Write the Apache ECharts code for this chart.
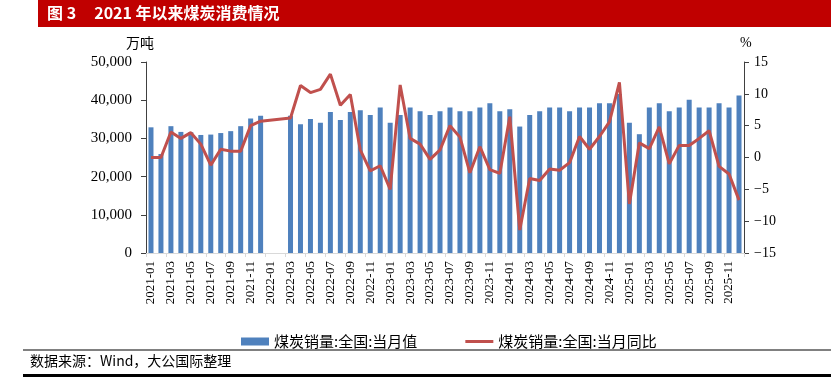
<!DOCTYPE html>
<html><head><meta charset="utf-8">
<script src="https://cdn.jsdelivr.net/npm/echarts@6/dist/echarts.min.js"></script>
<style>html,body{margin:0;padding:0;background:#fff}#c{width:831px;height:379px}</style>
</head><body><div id="c"></div>
<script>
const months = [];
for (let y = 2021; y <= 2025; y++) for (let m = 1; m <= 12; m++) months.push(y + '-' + String(m).padStart(2, '0'));
const salesValue = [
  32900, 25900, 33200, 31700, 31600, 30900, 31000, 31400, 31900, 33200, 35200, 35900,
  null, null, 35900, 33700, 35100, 34100, 36900, 34800, 36900, 37400, 36100, 38100,
  34100, 36100, 38100, 37100, 36100, 37100, 38100, 37100, 37100, 38100, 39200, 37100,
  37600, 33100, 36100, 37100, 38100, 38100, 37100, 38100, 38100, 39200, 39200, 41600,
  34100, 31100, 38100, 39200, 37100, 38100, 40100, 38100, 38100, 39200, 38100, 41200
];
const salesYoY = [
  0.0, 0.0, 4.0, 3.0, 3.9, 2.1, -1.2, 1.3, 1.0, 1.0, 5.0, 5.7,
  null, null, 6.2, 11.3, 10.2, 10.7, 13.1, 8.2, 9.9, 1.2, -2.1, -1.3,
  -5.0, 11.4, 3.0, 2.1, -0.3, 1.2, 5.0, 3.2, -2.4, 1.7, -1.9, -2.5,
  6.4, -11.4, -3.3, -3.6, -1.8, -2.0, -0.8, 3.3, 1.3, 3.3, 5.6, 11.8,
  -7.3, 2.3, 1.4, 4.8, -1.0, 1.9, 1.9, 3.0, 4.2, -1.4, -2.6, -6.7
];
const leftTicks = { min: 0, max: 50000, interval: 10000 };
const rightTicks = { min: -15, max: 15, interval: 5 };
const nameBar = '煤炭销量:全国:当月值';
const nameLine = '煤炭销量:全国:当月同比';
const titleText = '图 3     2021 年以来煤炭消费情况';
const sourceText = '数据来源：Wind，大公国际整理';

const serif = '"Liberation Serif", "Noto Sans CJK SC", serif';
const chart = echarts.init(document.getElementById('c'));
chart.setOption({
  animation: false,
  backgroundColor: '#fff',
  grid: { left: 146, right: 87, top: 62, bottom: 126, containLabel: false },
  legend: {
    left: 236, top: 329, itemGap: 48, itemWidth: 28, itemHeight: 8,
    textStyle: { fontFamily: '"Noto Sans CJK SC"', fontSize: 15, color: '#000' },
    data: [
      { name: nameBar, icon: 'rect' },
      { name: nameLine, icon: 'path://M0,0 M28,8 M0,2.5 L28,2.5 L28,5.5 L0,5.5 Z', itemStyle: { color: '#c0504d' } }
    ]
  },
  graphic: [
    { type: 'rect', left: 38, top: 0, shape: { width: 793, height: 27 }, style: { fill: '#c00000' } },
    { type: 'text', left: 47, top: 5, style: { text: titleText, fill: '#fff', font: 'bold 16px "Noto Sans CJK SC"' } },
    { type: 'text', left: 126, top: 36, style: { text: '万吨', fill: '#000', font: '14px "Noto Sans CJK SC"' } },
    { type: 'text', left: 740, top: 36, style: { text: '%', fill: '#000', font: '14px "Liberation Serif"' } },
    { type: 'rect', left: 23, top: 349, shape: { width: 808, height: 2 }, style: { fill: '#808080' } },
    { type: 'text', left: 30, top: 354, style: { text: sourceText, fill: '#000', font: '14px "Noto Sans CJK SC"' } },
    { type: 'rect', left: 23, top: 374, shape: { width: 808, height: 3 }, style: { fill: '#000' } }
  ],
  xAxis: {
    type: 'category', data: months, boundaryGap: true,
    axisLine: { lineStyle: { color: '#d9d9d9', width: 1 } },
    axisTick: { show: true, interval: 1, length: 4, lineStyle: { color: '#d9d9d9' } },
    axisLabel: { interval: 1, rotate: 90, fontFamily: serif, fontSize: 13, color: '#000', margin: 8 }
  },
  yAxis: [
    {
      type: 'value', min: leftTicks.min, max: leftTicks.max, interval: leftTicks.interval,
      splitLine: { show: false },
      axisLine: { show: true, lineStyle: { color: '#404040' } },
      axisTick: { show: true, length: 5, lineStyle: { color: '#404040' } },
      axisLabel: { fontFamily: serif, fontSize: 15, color: '#000', margin: 14,
        formatter: v => v === 0 ? '0' : v.toLocaleString('en-US') }
    },
    {
      type: 'value', min: rightTicks.min, max: rightTicks.max, interval: rightTicks.interval,
      splitLine: { show: false },
      axisLine: { show: true, lineStyle: { color: '#404040' } },
      axisTick: { show: true, length: 5, lineStyle: { color: '#404040' } },
      axisLabel: { fontFamily: serif, fontSize: 14, color: '#000', margin: 10,
        formatter: v => String(v).replace('-', '−') }
    }
  ],
  series: [
    { name: nameBar, type: 'bar', data: salesValue, barWidth: 5, itemStyle: { color: '#4f81bd' } },
    { name: nameLine, type: 'line', yAxisIndex: 1, data: salesYoY, connectNulls: true,
      symbol: 'none', lineStyle: { color: '#c0504d', width: 3 }, itemStyle: { color: '#c0504d' } }
  ]
});
</script></body></html>
